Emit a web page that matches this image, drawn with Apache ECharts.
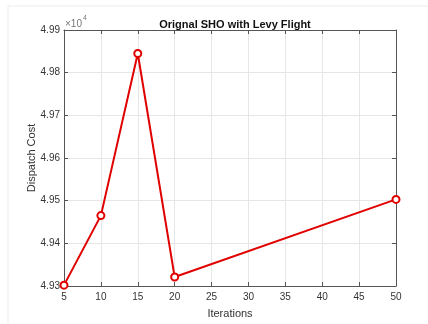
<!DOCTYPE html>
<html>
<head>
<meta charset="utf-8">
<script src="https://cdn.jsdelivr.net/npm/echarts@6/dist/echarts.min.js"></script>
<style>
  html, body { margin: 0; padding: 0; background: #fff; }
  #chart { width: 428px; height: 324px; }
</style>
</head>
<body>
<div id="chart"></div>
<script>
const iterations = [5, 10, 15, 20, 50]
const dispatchCost = [49302, 49465, 49845, 49321, 49503]
const xTicks = [5, 10, 15, 20, 25, 30, 35, 40, 45, 50]
const yTicks = [4.93, 4.94, 4.95, 4.96, 4.97, 4.98, 4.99]

const axisColor = '#555555'
const textColor = '#333333'
const gridColor = '#e6e6e6'

const myChart = echarts.init(document.getElementById('chart'))

const boxAxis = {
  axisLine: { show: true, onZero: false, lineStyle: { color: axisColor, width: 1 } },
  axisTick: { show: true, inside: true, length: 4, lineStyle: { color: axisColor } },
  axisLabel: { show: false },
  splitLine: { show: false }
}

const option = {
  animation: false,
  backgroundColor: '#ffffff',
  title: {
    text: 'Orignal SHO with Levy Flight',
    left: 230,
    top: 14,
    textAlign: 'center',
    textStyle: { fontFamily: 'Liberation Sans', fontSize: 11, fontWeight: 'bold', color: '#111111' }
  },
  graphic: [
    {
      type: 'polyline',
      shape: { points: [[8, 324], [8, 6], [428, 6]] },
      style: { stroke: '#ececec', lineWidth: 1, fill: null }
    },
    {
      type: 'text',
      left: 65,
      top: 19,
      style: { text: '×10', font: '10px "Liberation Sans"', fill: '#777777' }
    },
    {
      type: 'text',
      left: 83,
      top: 15,
      style: { text: '4', font: '7px "Liberation Sans"', fill: '#777777' }
    }
  ],
  grid: { left: 64, right: 32, top: 30, bottom: 34 },
  xAxis: [
    {
      type: 'value',
      min: 5,
      max: 50,
      interval: 5,
      name: 'Iterations',
      nameLocation: 'middle',
      nameGap: 22,
      nameTextStyle: { fontFamily: 'Liberation Sans', fontSize: 11, color: textColor },
      axisLine: { show: true, onZero: false, lineStyle: { color: axisColor } },
      axisTick: { show: true, inside: true, length: 4, lineStyle: { color: axisColor } },
      axisLabel: {
        fontFamily: 'Liberation Sans', fontSize: 10, color: textColor, margin: 6,
        formatter: (v) => (xTicks.includes(v) ? String(v) : '')
      },
      splitLine: { show: true, lineStyle: { color: gridColor } }
    },
    Object.assign({ type: 'value', position: 'top', min: 5, max: 50, interval: 5 }, boxAxis)
  ],
  yAxis: [
    {
      type: 'value',
      min: 49300,
      max: 49900,
      interval: 100,
      name: 'Dispatch Cost',
      nameLocation: 'middle',
      nameGap: 27,
      nameRotate: 90,
      nameMoveOverlap: false,
      nameTextStyle: { fontFamily: 'Liberation Sans', fontSize: 11, color: textColor },
      axisLine: { show: true, onZero: false, lineStyle: { color: axisColor } },
      axisTick: { show: true, inside: true, length: 4, lineStyle: { color: axisColor } },
      axisLabel: {
        fontFamily: 'Liberation Sans', fontSize: 10, color: textColor, margin: 4,
        formatter: (v) => {
          const t = Math.round(v / 100) / 100
          return yTicks.includes(t) ? t.toFixed(2) : ''
        }
      },
      splitLine: { show: true, lineStyle: { color: gridColor } }
    },
    Object.assign({ type: 'value', position: 'right', min: 49300, max: 49900, interval: 100 }, boxAxis)
  ],
  series: [
    {
      type: 'line',
      xAxisIndex: 0,
      yAxisIndex: 0,
      data: iterations.map((x, i) => [x, dispatchCost[i]]),
      lineStyle: { color: '#e00000', width: 2 },
      itemStyle: { color: '#ffffff', borderColor: '#e00000', borderWidth: 2 },
      symbol: 'circle',
      symbolSize: 7,
      showAllSymbol: true,
      clip: false
    }
  ]
}

myChart.setOption(option)
</script>
</body>
</html>
